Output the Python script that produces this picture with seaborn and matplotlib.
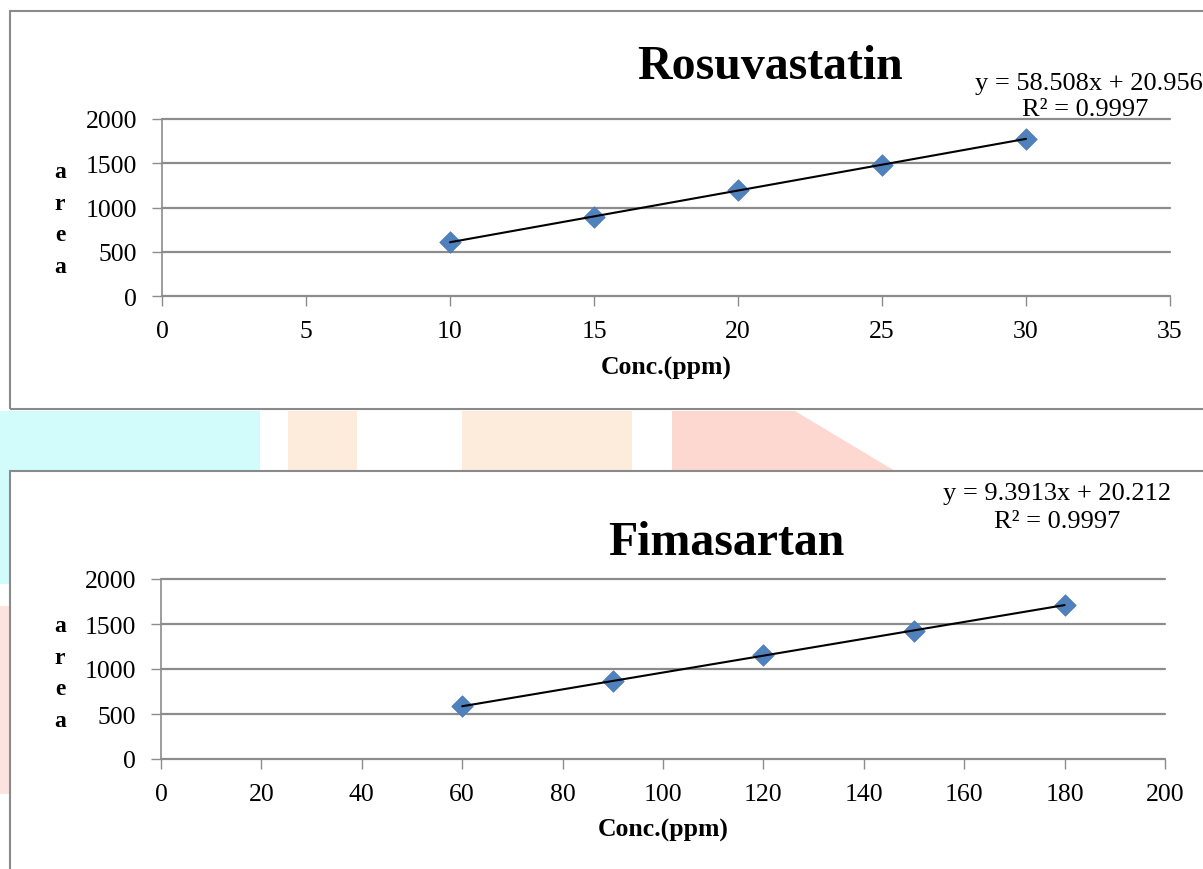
import matplotlib
matplotlib.use("Agg")
import matplotlib.pyplot as plt
import matplotlib.patches as patches
import seaborn as sns
import numpy as np

# calibration data
ros_conc = [10, 15, 20, 25, 30]
ros_area = [608, 897, 1195, 1482, 1776]
ros_eq = "y = 58.508x + 20.956"
ros_r2 = "R² = 0.9997"

fim_conc = [60, 90, 120, 150, 180]
fim_area = [586, 866, 1152, 1426, 1711]
fim_eq = "y = 9.3913x + 20.212"
fim_r2 = "R² = 0.9997"

W, H = 1203, 870

sns.set_style("white")
plt.rcParams['font.family'] = ['Liberation Serif', 'DejaVu Serif']
plt.rcParams['text.color'] = 'black'
plt.rcParams['xtick.labelcolor'] = 'black'
plt.rcParams['ytick.labelcolor'] = 'black'

fig = plt.figure(figsize=(W / 100, H / 100), dpi=100)


def fx(x):
    return x / W


def fy(y):
    return 1 - y / H


def add_axes_px(left, top, right, bottom):
    return fig.add_axes([fx(left), fy(bottom), fx(right - left), (bottom - top) / H])


# faint watermark between the two boxes
wm = [
    ([(0, 412), (260, 412), (260, 472), (0, 472)], '#d2fbfc'),
    ([(0, 472), (10, 472), (10, 585), (0, 585)], '#d2fbfc'),
    ([(0, 607), (10, 607), (10, 795), (0, 795)], '#fde3e0'),
    ([(288, 412), (357, 412), (357, 472), (288, 472)], '#fdecdb'),
    ([(462, 412), (632, 412), (632, 472), (462, 472)], '#fdecdb'),
    ([(672, 412), (795, 412), (895, 472), (672, 472)], '#fdd8d0'),
]
for pts, col in wm:
    fig.patches.append(patches.Polygon([(fx(a), fy(b)) for a, b in pts], closed=True,
                                       transform=fig.transFigure, facecolor=col,
                                       edgecolor='none', zorder=0))

# chart area borders
for top, bottom in [(12, 410), (472, 890)]:
    fig.patches.append(patches.Rectangle((fx(10), fy(bottom)), fx(1230 - 10), (bottom - top) / H,
                                         transform=fig.transFigure, facecolor='none',
                                         edgecolor='#8a8a8a', lw=1.5, zorder=1))


def draw_panel(ax, x, y, xmax, xstep, title, title_xy, eq, r2, eq_xy, r2_xy, xlabel_xy, yl_xy):
    sns.regplot(x=x, y=y, ax=ax, ci=None, marker='D',
                scatter_kws=dict(color='#4f81bd', s=120, edgecolors='#4a78b0', linewidths=0.5, alpha=1),
                line_kws=dict(color='black', lw=1.5))
    ax.set_facecolor('none')
    ax.set_xlim(0, xmax)
    ax.set_ylim(0, 2000)
    ax.set_xticks(np.arange(0, xmax + 1, xstep))
    ax.set_yticks([0, 500, 1000, 1500, 2000])
    ax.grid(True, axis='y', color='#8c8c8c', lw=1.6)
    for gl in ax.get_ygridlines():
        gl.set_clip_on(False)
    ax.set_axisbelow(True)
    for s in ['top', 'right']:
        ax.spines[s].set_visible(False)
    for s in ['left', 'bottom']:
        ax.spines[s].set_color('#8c8c8c')
        ax.spines[s].set_linewidth(1.2)
    ax.tick_params(axis='x', direction='out', length=7, width=1, color='#8c8c8c',
                   labelsize=18.5, pad=10, bottom=True)
    ax.tick_params(axis='y', direction='out', length=7, width=1, color='#8c8c8c',
                   labelsize=18.5, pad=11, left=True)
    ax.set_xlabel('')
    ax.set_ylabel('')
    fig.text(fx(title_xy[0]), fy(title_xy[1]), title, fontsize=34.5, fontweight='bold',
             ha='center', va='center')
    fig.text(fx(eq_xy[0]), fy(eq_xy[1]), eq, fontsize=19, ha='left', va='center')
    fig.text(fx(r2_xy[0]), fy(r2_xy[1]), r2, fontsize=19, ha='center', va='center')
    fig.text(fx(xlabel_xy[0]), fy(xlabel_xy[1]), 'Conc.(ppm)', fontsize=18.5,
             fontweight='bold', ha='center', va='center')
    fig.text(fx(yl_xy[0]), fy(yl_xy[1]), 'a\nr\ne\na', fontsize=17, fontweight='bold',
             ha='center', va='center', linespacing=1.65)


ax1 = add_axes_px(162, 120, 1170, 297)
draw_panel(ax1, ros_conc, ros_area, 35, 5, 'Rosuvastatin', (770, 67),
           ros_eq, ros_r2, (975, 84), (1085, 110), (666, 368), (60, 220))

ax2 = add_axes_px(161, 580, 1165, 760)
draw_panel(ax2, fim_conc, fim_area, 200, 20, 'Fimasartan', (726, 543),
           fim_eq, fim_r2, (943, 494), (1057, 522), (663, 830), (60, 674))

fig.savefig('out.png', dpi=100)
